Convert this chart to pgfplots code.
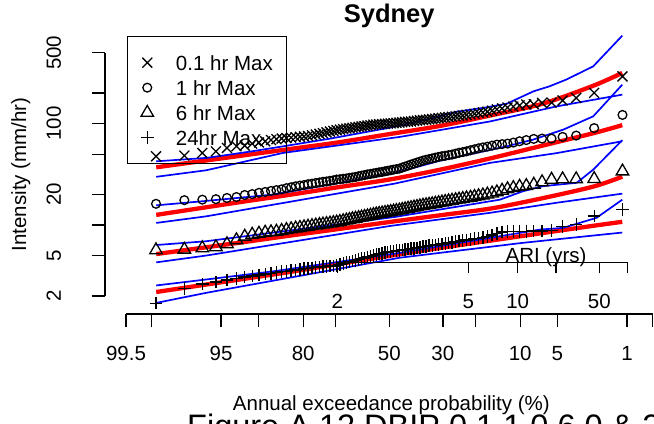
\documentclass[border=0pt]{standalone}
\usepackage{pgfplots}
\pgfplotsset{compat=1.18}
\usepackage{pgfplotstable}
\usepackage{fontspec}
\setmainfont{Liberation Sans}

\newcommand\lblfont{\fontsize{20.5bp}{24bp}\selectfont}

% Annual maxima (mm/hr) at Weibull plotting positions; z is the standard normal quantile
\pgfplotstableread{
z m01 m1 m6 m24
-2.282 47.6 16.2 5.67 1.70
-2.005 48.4 17.6 5.74 2.37
-1.829 51.4 17.8 5.93 2.63
-1.696 53.3 18.0 6.07 2.75
-1.588 57.6 18.5 6.50 2.88
-1.495 59.8 18.9 7.12 2.97
-1.414 60.7 19.8 7.71 3.08
-1.341 63.5 20.2 8.06 3.15
-1.275 65.2 20.8 8.25 3.22
-1.214 67.0 21.2 8.44 3.30
-1.157 69.0 21.7 8.53 3.35
-1.104 70.2 22.1 8.63 3.41
-1.053 71.3 22.5 8.79 3.47
-1.006 72.0 23.1 8.97 3.51
-0.960 72.8 23.6 9.13 3.56
-0.916 73.5 24.1 9.28 3.61
-0.874 74.2 24.5 9.41 3.66
-0.834 74.8 24.8 9.54 3.71
-0.795 75.6 25.3 9.67 3.75
-0.756 76.9 25.6 9.80 3.79
-0.719 78.0 26.0 9.93 3.83
-0.683 79.3 26.3 10.04 3.87
-0.649 80.6 26.7 10.16 3.90
-0.614 82.0 26.9 10.28 3.92
-0.580 83.5 27.3 10.39 3.94
-0.547 84.8 27.6 10.51 3.96
-0.515 86.0 28.1 10.63 3.99
-0.483 87.2 28.3 10.78 4.08
-0.451 88.2 28.6 10.95 4.18
-0.420 89.2 28.8 11.12 4.25
-0.390 90.0 29.2 11.28 4.33
-0.360 91.0 29.5 11.46 4.41
-0.330 92.0 29.8 11.59 4.49
-0.300 93.0 30.3 11.75 4.57
-0.271 93.8 30.7 11.91 4.66
-0.242 94.6 31.1 12.07 4.74
-0.213 95.5 31.6 12.24 4.83
-0.184 96.4 31.9 12.40 4.91
-0.155 97.6 32.3 12.60 5.01
-0.127 98.0 32.7 12.78 5.10
-0.099 98.6 33.1 12.92 5.18
-0.070 99.0 33.4 13.07 5.26
-0.042 99.5 33.9 13.22 5.36
-0.014 100.0 34.3 13.34 5.42
0.014 100.5 34.7 13.49 5.48
0.042 101.0 35.2 13.64 5.53
0.070 102.0 35.6 13.80 5.58
0.099 102.5 36.0 13.96 5.64
0.127 103.0 36.9 14.15 5.69
0.155 104.0 37.7 14.35 5.74
0.184 104.5 38.6 14.54 5.79
0.213 105.0 39.5 14.74 5.84
0.242 106.0 40.4 14.94 5.91
0.271 107.0 41.3 15.14 5.97
0.300 108.0 42.2 15.35 6.04
0.330 108.5 43.2 15.56 6.11
0.360 109.0 44.0 15.74 6.18
0.390 110.0 44.7 15.92 6.25
0.420 111.0 45.4 16.10 6.33
0.451 112.0 46.2 16.29 6.38
0.483 113.0 47.0 16.51 6.44
0.515 114.0 47.7 16.74 6.50
0.547 115.0 48.2 16.97 6.57
0.580 116.0 48.9 17.20 6.66
0.614 117.0 49.5 17.43 6.75
0.649 118.0 50.6 17.67 6.85
0.683 119.0 51.6 17.91 6.94
0.719 120.0 52.4 18.16 7.04
0.756 122.0 53.3 18.41 7.13
0.795 123.0 54.6 18.66 7.23
0.834 125.0 55.8 19.00 7.33
0.874 127.0 57.1 19.31 7.43
0.916 129.0 58.3 19.66 7.57
0.960 131.0 59.3 20.06 7.74
1.006 134.0 60.7 20.52 7.97
1.053 138.0 62.1 21.09 8.25
1.104 141.0 62.8 21.87 8.53
1.157 144.0 63.5 22.63 8.63
1.214 147.0 65.0 23.25 8.67
1.275 151.0 67.0 23.95 8.69
1.341 154.0 68.8 24.33 8.69
1.414 155.0 70.7 25.06 8.73
1.495 160.0 71.2 26.52 8.73
1.588 161.0 71.2 28.07 8.83
1.696 169.0 74.0 28.39 9.73
1.829 179.0 76.2 28.39 10.11
2.005 201.0 90.3 28.52 12.26
2.282 292.0 121.8 33.89 14.21
}\maxima

\pgfplotsset{
  mk/.style={only marks, black, mark options={line width=1.3bp, solid, black},
    legend image code/.code={\path (-5.8bp,0bp) (28bp,0bp); \draw[##1] plot coordinates {(0bp,0bp)};}},
  fit/.style={forget plot, red, line width=4.3bp, smooth, mark=none},
  band/.style={forget plot, blue, line width=1.7bp, mark=none},
  rstyle/.style={tick align=outside, axis line style={line width=1.3bp, -},
    tick style={line width=1.3bp, black}, minor tick num=0},
}

\begin{document}
\begin{tikzpicture}
% ---- data panel (normal probability x, log intensity y) ----
\begin{axis}[
  at={(126bp,128bp)}, anchor=south west,
  scale only axis, width=526.5bp, height=243.3bp,
  xmin=-2.5758, xmax=2.5758, ymin=2, ymax=500, ymode=log,
  hide axis, clip=false,
  legend style={at={(axis description cs:0.0013,1.0686)}, anchor=north west,
    draw=black, line width=1.3bp, fill=none, inner xsep=13.5bp, inner ysep=14bp,
    row sep=1bp, font=\lblfont,
    nodes={inner xsep=0bp, inner ysep=2bp, text height=18bp, text depth=2bp}},
  legend cell align=left,
]
\addplot[mk, mark=x, mark size=7bp] table[x=z, y=m01] {\maxima};
\addlegendentry{0.1 hr Max}
\addplot[mk, mark=o, mark size=4.4bp] table[x=z, y=m1] {\maxima};
\addlegendentry{1 hr Max}
\addplot[mk, mark=triangle, mark size=7.2bp] table[x=z, y=m6] {\maxima};
\addlegendentry{6 hr Max}
\addplot[mk, mark=+, mark size=6.3bp] table[x=z, y=m24] {\maxima};
\addlegendentry{24hr Max}

% fitted quantile curves
\addplot[fit] coordinates {(-2.28,37.1) (-1.5,47.5) (-1.0,55.7) (-0.5,65.3) (0,78.8) (0.5,95) (1.0,121) (1.5,157) (2.0,237) (2.28,316)};
\addplot[fit] coordinates {(-2.28,12.6) (-1.5,16.6) (-1.0,19.7) (-0.5,23.6) (0,28.1) (0.5,35.2) (1.0,45.7) (1.5,60.7) (2.0,80.6) (2.28,96.6)};
\addplot[fit] coordinates {(-2.28,5.18) (-1.5,6.63) (-1.0,7.80) (-0.5,9.13) (0,10.71) (0.5,12.5) (1.0,14.6) (1.5,18.4) (2.0,24.0) (2.28,30.0)};
\addplot[fit] coordinates {(-2.28,2.19) (-1.5,2.87) (-1.0,3.42) (-0.5,4.12) (0,4.97) (0.5,5.95) (1.0,7.05) (1.5,8.35) (2.0,9.85) (2.28,10.77)};

% confidence limits
\addplot[band] coordinates {(-2.28,42.5) (-1.79,45.9) (-1.36,53.0) (-1.04,59.7) (-0.58,71.1) (0.007,91.3) (0.40,112) (0.66,131) (0.92,143) (1.149,157) (1.411,208) (1.567,233) (1.73,271) (1.996,367) (2.28,736)};
\addplot[band] coordinates {(-2.28,29.9) (-1.79,34.7) (-1.04,51.4) (-0.48,61.4) (0.105,74.0) (0.5,86.5) (0.985,105) (1.64,148) (2.28,193)};
\addplot[band] coordinates {(-2.28,15.65) (-1.79,17.3) (-1.135,20.0) (0.05,32.5) (0.5,43.2) (1.149,59.7) (1.409,69.6) (1.703,87.3) (1.996,118) (2.28,242)};
\addplot[band] coordinates {(-2.28,10.5) (-1.79,12.2) (0.05,25.6) (0.985,41.0) (1.638,51.2) (2.28,67.0)};
\addplot[band] coordinates {(-2.28,6.36) (-1.79,6.93) (0.05,12.0) (1.083,17.8) (1.311,21.6) (1.507,24.2) (1.834,26.1) (1.996,35.2) (2.28,68.7)};
\addplot[band] coordinates {(-2.28,4.29) (-1.79,5.01) (0.007,9.8) (0.985,13.2) (1.638,16.6) (2.28,20.4)};
\addplot[band] coordinates {(-2.28,2.54) (-1.79,2.91) (-1.135,3.50) (0.105,5.32) (0.985,7.48) (1.475,9.03) (1.703,9.39) (2.029,11.8) (2.28,17.8)};
\addplot[band] coordinates {(-2.28,1.71) (-1.79,2.15) (0.105,4.77) (1.311,6.69) (2.28,8.44)};

\node[anchor=base, font=\fontsize{25.5bp}{30bp}\selectfont\bfseries]
  at (axis description cs:0.5,1.1233) {Sydney};
\end{axis}

% ---- bottom axis: annual exceedance probability ----
\begin{axis}[
  at={(126bp,110bp)}, anchor=south west,
  scale only axis, width=526.5bp, height=20bp,
  xmin=-2.5758, xmax=2.5758, ymin=0, ymax=1,
  axis x line*=bottom, axis y line=none, ytick=\empty, rstyle,
  major tick length=13bp,
  xtick={-2.5758,-2.3263,-1.6449,-1.2816,-0.8416,-0.5244,0,0.5244,0.8416,1.2816,1.6449,2.3263,2.5758},
  xticklabels={99.5,,95,,80,,50,30,,10,5,1,},
  xticklabel style={font=\lblfont, anchor=base, yshift=-33.7bp},
  xlabel={Annual exceedance probability (\%)},
  xlabel style={font=\lblfont, at={(axis description cs:0.504,0)}, anchor=base, yshift=-96bp},
]
\end{axis}

% ---- left axis: intensity ----
\begin{axis}[
  at={(105bp,128bp)}, anchor=south west,
  scale only axis, width=100bp, height=243.3bp,
  xmin=0, xmax=1, ymin=2, ymax=500, ymode=log,
  axis y line*=left, axis x line=none, xtick=\empty, rstyle,
  yminorticks=false, major tick length=13bp,
  ytick={2,5,10,20,50,100,200,500},
  yticklabels={2,5,,20,,100,,500},
  yticklabel style={font=\lblfont, xshift=-31bp, rotate=90, anchor=base},
  ylabel={Intensity (mm/hr)},
  ylabel style={font=\lblfont, at={(axis description cs:-0.79,0.5)}, anchor=base},
]
\end{axis}

% ---- average recurrence interval axis ----
\begin{axis}[
  at={(337.3bp,161.3bp)}, anchor=south west,
  scale only axis, width=290.4bp, height=10bp,
  xmin=-0.509, xmax=2.333, ymin=0, ymax=1,
  axis x line*=bottom, axis y line=none, ytick=\empty, rstyle,
  major tick length=10.7bp,
  xtick={-0.509,0.773,1.256,1.631,2.055,2.333},
  xticklabels={2,5,10,,50,},
  xticklabel style={font=\lblfont, anchor=base, yshift=-34.9bp},
  xlabel={ARI (yrs)},
  xlabel style={font=\lblfont, at={(axis description cs:0.7187,0)}, anchor=base},
]
\end{axis}

\node[anchor=base west, inner sep=0pt, font=\fontsize{32.5bp}{38bp}\selectfont]
  at (187bp,-13bp) {Figure A.12 DBIP 0.1,1.0,6.0 \& 24hr Max};

\pgfresetboundingbox
\useasboundingbox (0bp,0bp) rectangle (654bp,424bp);
\end{tikzpicture}
\end{document}
